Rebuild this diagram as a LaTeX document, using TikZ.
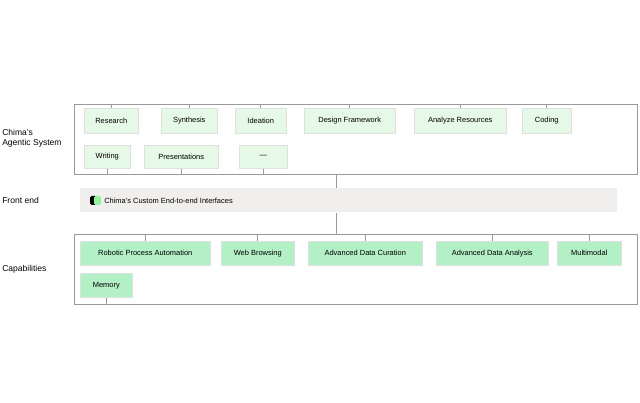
\documentclass[tikz,border=0pt]{standalone}
\usepackage{fontspec}
\setmainfont{Liberation Sans}
\usetikzlibrary{positioning,calc}
\definecolor{paleg}{HTML}{E6F8E6}
\definecolor{midg}{HTML}{B4F0C6}
\definecolor{frameg}{HTML}{9A9A9A}
\definecolor{barg}{HTML}{F0EFED}
\begin{document}
\begin{tikzpicture}[x=0.75pt,y=-0.75pt,font=\fontsize{5.6}{6.5}\selectfont,
	frame/.style={draw=frameg,line width=0.6pt},
	tick/.style={draw=frameg,line width=0.5pt},
	agent/.style={fill=paleg,draw=black!12,line width=0.4pt,inner sep=0pt,anchor=north west},
	capab/.style={fill=midg,draw=black!12,line width=0.4pt,inner sep=0pt,anchor=north west},
	lbl/.style={anchor=west,align=left,inner sep=0pt,font=\fontsize{6.4}{7.6}\selectfont}]
	\useasboundingbox (0,0) rectangle (640,403);
	% frames
	\node[frame,minimum width=563*0.75pt,minimum height=70*0.75pt,anchor=north west,inner sep=0pt] (TOP) at (74,104) {};
	\node[frame,minimum width=563*0.75pt,minimum height=70*0.75pt,anchor=north west,inner sep=0pt] (BOT) at (74,234) {};
	\node[fill=barg,minimum width=537*0.75pt,minimum height=24*0.75pt,anchor=north west,inner sep=0pt] (FE) at (80,188) {};
	\draw[tick] (TOP.south -| 336,0) -- (FE.north -| 336,0);
	\draw[tick] (FE.south -| 336,0) -- (BOT.north -| 336,0);
	% side labels
	\node[lbl] (L1) at (2,138) {Chima's\\Agentic System};
	\node[lbl] (L2) at (2,200) {Front end};
	\node[lbl] (L3) at (2,269) {Capabilities};
	% front end text
	\fill[black,rounded corners=1.2pt] (90,196) rectangle (97,205);
	\fill[midg!80!green,rounded corners=1.2pt] (94,196) rectangle (101,205);
	\node[anchor=west,inner sep=0pt] (FT) at (104,200.5) {Chima's Custom End-to-end Interfaces};
	% agentic system boxes: x, width, y, height, tick side, name, text
	\foreach \x/\w/\y/\n/\t in {84/54/108/research/Research,161/56/108/synth/Synthesis,235/51/108/idea/Ideation,
		304/91/108/design/Design Framework,414/92/108/analyze/Analyze Resources,522/49/108/coding/Coding}{
		\node[agent,minimum width=\w*0.75pt,minimum height=25*0.75pt] (\n) at (\x,\y) {\t};
		\draw[tick] (\n.north) -- (\n.north |- TOP.north);
	}
	\foreach \x/\w/\y/\n/\t in {84/46/145/writing/Writing,144/74/145/present/Presentations,239/48/145/more/---}{
		\node[agent,minimum width=\w*0.75pt,minimum height=23*0.75pt] (\n) at (\x,\y) {\t};
		\draw[tick] (\n.south) -- (\n.south |- TOP.south);
	}
	% capabilities boxes
	\foreach \x/\w/\n/\t in {80/130/rpa/Robotic Process Automation,221/73/web/Web Browsing,308/114/curation/Advanced Data Curation,
		436/112/analysis/Advanced Data Analysis,557/64/multi/Multimodal}{
		\node[capab,minimum width=\w*0.75pt,minimum height=24*0.75pt] (\n) at (\x,241) {\t};
		\draw[tick] (\n.north) -- (\n.north |- BOT.north);
	}
	\node[capab,minimum width=52*0.75pt,minimum height=24*0.75pt] (memory) at (80,273) {Memory};
	\draw[tick] (memory.south) -- (memory.south |- BOT.south);
\end{tikzpicture}
\end{document}
